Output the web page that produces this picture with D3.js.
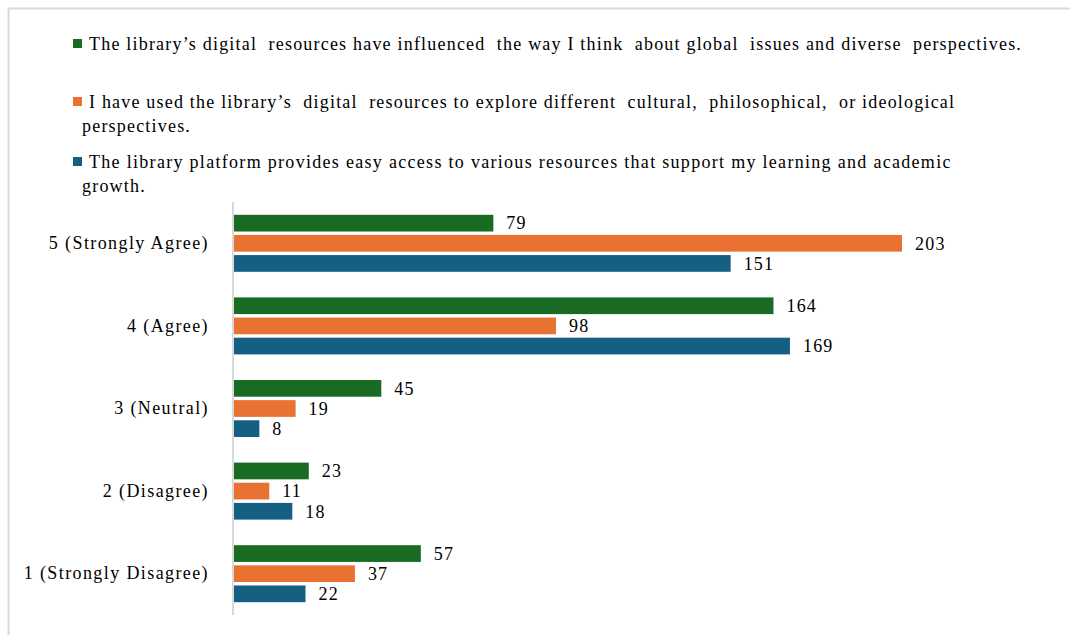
<!DOCTYPE html>
<html>
<head>
<meta charset="utf-8">
<script src="https://cdn.jsdelivr.net/npm/d3@7"></script>
<style>
  body { margin: 0; background: #fff; }
  svg text { font-family: 'Liberation Serif', 'DejaVu Serif', serif; fill: #000; letter-spacing: 1.2px; }
</style>
</head>
<body>
<div id="chart"></div>
<script>
// categories top to bottom
var categories = ["5 (Strongly Agree)", "4 (Agree)", "3 (Neutral)", "2 (Disagree)", "1 (Strongly Disagree)"];

// series names, split at the legend line breaks
var seriesNames = [
  ["The library\u2019s digital  resources have influenced  the way I think  about global  issues and diverse  perspectives."],
  ["I have used the library\u2019s  digital  resources to explore different  cultural,  philosophical,  or ideological", "perspectives."],
  ["The library platform provides easy access to various resources that support my learning and academic", "growth."]
];

var influenced = [79, 164, 45, 23, 57];
var explored   = [203, 98, 19, 11, 37];
var access     = [151, 169, 8, 18, 22];

var colors = ["#196B24", "#E97132", "#156082"];
var font = "'Liberation Serif', 'DejaVu Serif', serif";

var width = 1070, height = 635;

var svg = d3.select("#chart").append("svg")
  .attr("width", width)
  .attr("height", height);

// frame (top and left edges only visible)
svg.append("line").attr("x1", 8).attr("x2", width).attr("y1", 8.5).attr("y2", 8.5)
  .attr("stroke", "#d9d9d9").attr("stroke-width", 2);
svg.append("line").attr("x1", 8.5).attr("x2", 8.5).attr("y1", 8).attr("y2", height)
  .attr("stroke", "#d9d9d9").attr("stroke-width", 2);

// Legend
var legendY = [44, 102, 162];
var legend = svg.append("g");
seriesNames.forEach(function(lines, i) {
  legend.append("rect")
    .attr("x", 73).attr("y", legendY[i] - 5)
    .attr("width", 9).attr("height", 9)
    .attr("fill", colors[i]);
  var t = legend.append("text")
    .attr("x", 89).attr("y", legendY[i] + 6)
    .attr("font-family", font)
    .style("font-size", "18px")
    .style("white-space", "pre");
  lines.forEach(function(l, j) {
    t.append("tspan")
      .attr("x", j === 0 ? 89 : 82)
      .attr("dy", j === 0 ? 0 : 24)
      .style("letter-spacing", i === 2 && j === 0 ? "1.3px" : null)
      .text(l);
  });
});

// scales
var x = d3.scaleLinear().domain([0, 203]).range([233, 902]);

var y = d3.scaleBand().domain(categories).range([202, 615])
  .paddingInner(0.31).paddingOuter(0.155);

var ySeries = d3.scaleBand().domain([0, 1, 2]).range([0, y.bandwidth()])
  .paddingInner(0.17);

var rows = categories.map(function(c, i) {
  return { cat: c, vals: [influenced[i], explored[i], access[i]] };
});

var groups = svg.selectAll(".group")
  .data(rows)
  .enter().append("g")
  .attr("class", "group")
  .attr("transform", function(d) { return "translate(0," + y(d.cat) + ")"; });

groups.selectAll("rect")
  .data(function(d) { return d.vals; })
  .enter().append("rect")
  .attr("x", x(0))
  .attr("y", function(d, i) { return ySeries(i); })
  .attr("width", function(d) { return x(d) - x(0); })
  .attr("height", ySeries.bandwidth())
  .attr("fill", function(d, i) { return colors[i]; });

groups.selectAll(".val")
  .data(function(d) { return d.vals; })
  .enter().append("text")
  .attr("class", "val")
  .attr("x", function(d) { return x(d) + 13; })
  .attr("y", function(d, i) { return ySeries(i) + ySeries.bandwidth() / 2; })
  .attr("dy", "0.35em")
  .attr("font-family", font)
  .style("font-size", "18px")
  .text(function(d) { return d; });

// y axis
var yAxis = svg.append("g")
  .attr("transform", "translate(" + x(0) + ",0)")
  .call(d3.axisLeft(y).tickSize(0).tickPadding(24));
yAxis.attr("font-family", font);
yAxis.select(".domain").attr("stroke", "#d9d9d9").attr("stroke-width", 2)
  .attr("d", "M0,202V615");
yAxis.selectAll("text").style("font-size", "18px").style("letter-spacing", "1.4px").attr("font-family", font);
</script>
</body>
</html>
